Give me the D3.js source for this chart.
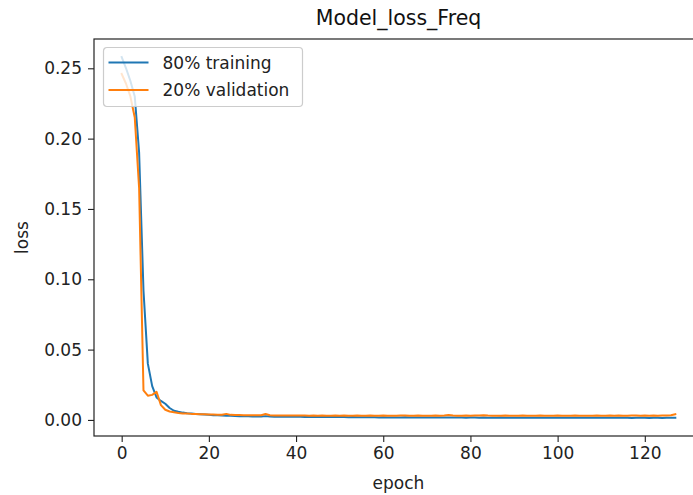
<!DOCTYPE html>
<html>
<head>
<meta charset="utf-8">
<script src="https://cdn.jsdelivr.net/npm/d3@7"></script>
<style>
  html, body { margin: 0; padding: 0; background: #fff; overflow: hidden; }
  svg { display: block; font-family: "DejaVu Sans", sans-serif; }
</style>
</head>
<body>
<div id="chart"></div>
<script>
const title = "Model_loss_Freq";
const xLabel = "epoch";
const yLabel = "loss";
const seriesNames = ["80% training", "20% validation"];
const seriesColors = ["#1f77b4", "#ff7f0e"];
const xTicks = [0, 20, 40, 60, 80, 100, 120];
const yTicks = [0.00, 0.05, 0.10, 0.15, 0.20, 0.25];

const trainLoss = [
  0.258,0.250,0.241,0.230,0.190,0.092,0.040,0.024,0.016,0.0135,
  0.0115,0.0085,0.0065,0.0058,0.0052,0.0048,0.0045,0.0042,0.0040,0.0038,
  0.0036,0.0034,0.0033,0.0031,0.0030,0.0029,0.0028,0.0027,0.0026,0.0026,
  0.0025,0.0025,0.0024,0.0027,0.0024,0.0023,0.0023,0.0023,0.0022,0.0022,
  0.0022,0.0022,0.0021,0.0021,0.0021,0.0021,0.0020,0.0021,0.0020,0.0020,
  0.0020,0.0020,0.0019,0.0020,0.0019,0.0019,0.0019,0.0019,0.0019,0.0018,
  0.0019,0.0018,0.0018,0.0018,0.0018,0.0019,0.0018,0.0018,0.0017,0.0018,
  0.0017,0.0017,0.0017,0.0018,0.0017,0.0018,0.0017,0.0017,0.0017,0.0016,
  0.0017,0.0017,0.0016,0.0017,0.0016,0.0016,0.0016,0.0017,0.0016,0.0016,
  0.0016,0.0016,0.0016,0.0016,0.0015,0.0016,0.0016,0.0015,0.0016,0.0015,
  0.0016,0.0015,0.0015,0.0015,0.0016,0.0015,0.0015,0.0015,0.0015,0.0015,
  0.0015,0.0015,0.0015,0.0016,0.0015,0.0015,0.0015,0.0014,0.0015,0.0015,
  0.0015,0.0014,0.0015,0.0015,0.0014,0.0015,0.0015,0.0016
];
const valLoss = [
  0.246,0.239,0.230,0.215,0.165,0.021,0.0172,0.0178,0.0200,0.0105,
  0.0072,0.0060,0.0054,0.0049,0.0046,0.0045,0.0043,0.0042,0.0041,0.0040,
  0.0039,0.0038,0.0037,0.0037,0.0043,0.0036,0.0035,0.0035,0.0034,0.0034,
  0.0033,0.0033,0.0033,0.0042,0.0033,0.0032,0.0032,0.0032,0.0031,0.0032,
  0.0031,0.0031,0.0031,0.0030,0.0031,0.0030,0.0031,0.0030,0.0030,0.0031,
  0.0030,0.0032,0.0030,0.0030,0.0031,0.0030,0.0030,0.0031,0.0030,0.0030,
  0.0031,0.0030,0.0030,0.0030,0.0031,0.0032,0.0030,0.0030,0.0031,0.0030,
  0.0030,0.0030,0.0031,0.0030,0.0031,0.0035,0.0031,0.0030,0.0030,0.0031,
  0.0030,0.0031,0.0032,0.0034,0.0031,0.0030,0.0030,0.0030,0.0031,0.0030,
  0.0030,0.0030,0.0031,0.0030,0.0030,0.0030,0.0031,0.0030,0.0030,0.0030,
  0.0031,0.0030,0.0030,0.0030,0.0031,0.0030,0.0030,0.0030,0.0030,0.0031,
  0.0030,0.0030,0.0031,0.0030,0.0031,0.0030,0.0030,0.0031,0.0032,0.0030,
  0.0031,0.0030,0.0031,0.0030,0.0031,0.0032,0.0033,0.0040
];

const W = 693, H = 495;
const plot = { left: 94, top: 39, right: 703, bottom: 436 };
const fs = 17;

const series = [trainLoss, valLoss];
const n = trainLoss.length;
const xPad = (n - 1) * 0.05;
const allVals = trainLoss.concat(valLoss);
const [ymin, ymax] = d3.extent(allVals);
const yPad = (ymax - ymin) * 0.05;

const x = d3.scaleLinear().domain([-xPad, n - 1 + xPad]).range([plot.left, plot.right]);
const y = d3.scaleLinear().domain([ymin - yPad, ymax + yPad]).range([plot.bottom, plot.top]);

const svg = d3.select("#chart").append("svg").attr("width", W).attr("height", H);

svg.append("defs").append("clipPath").attr("id", "clip")
  .append("rect").attr("x", plot.left).attr("y", plot.top)
  .attr("width", plot.right - plot.left).attr("height", plot.bottom - plot.top);

const line = d3.line().x((d, i) => x(i)).y(d => y(d));
series.forEach((s, k) => {
  svg.append("path").datum(s)
    .attr("clip-path", "url(#clip)")
    .attr("fill", "none")
    .attr("stroke", seriesColors[k])
    .attr("stroke-width", 2)
    .attr("stroke-linejoin", "round")
    .attr("stroke-linecap", "square")
    .attr("d", line);
});

// axes
const xAxis = d3.axisBottom(x).tickValues(xTicks).tickSize(6).tickPadding(5).tickFormat(d3.format("d"));
const yAxis = d3.axisLeft(y).tickValues(yTicks).tickSize(6).tickPadding(6).tickFormat(d3.format(".2f"));

const gx = svg.append("g").attr("transform", `translate(0,${plot.bottom})`).call(xAxis);
const gy = svg.append("g").attr("transform", `translate(${plot.left},0)`).call(yAxis);
[gx, gy].forEach(g => {
  g.select(".domain").remove();
  g.selectAll(".tick line").attr("stroke", "#222").attr("stroke-width", 1.1);
  g.selectAll(".tick text").attr("fill", "#222").style("font-size", fs + "px").style("font-family", "DejaVu Sans");
});

// spines
svg.append("rect").attr("x", plot.left).attr("y", plot.top)
  .attr("width", plot.right - plot.left).attr("height", plot.bottom - plot.top)
  .attr("fill", "none").attr("stroke", "#222").attr("stroke-width", 1.2);

// labels
svg.append("text").attr("x", (plot.left + plot.right) / 2).attr("y", 25)
  .attr("text-anchor", "middle").style("font-size", "20.5px").attr("fill", "#111").text(title);
svg.append("text").attr("x", (plot.left + plot.right) / 2).attr("y", 489)
  .attr("text-anchor", "middle").style("font-size", fs + "px").attr("fill", "#222").text(xLabel);
svg.append("text").attr("transform", `translate(28,${(plot.top + plot.bottom) / 2}) rotate(-90)`)
  .attr("text-anchor", "middle").style("font-size", fs + "px").attr("fill", "#222").text(yLabel);

// legend
const lg = svg.append("g").attr("transform", "translate(103.5,47.5)");
lg.append("rect").attr("width", 199).attr("height", 59).attr("rx", 3.5)
  .attr("fill", "#fff").attr("fill-opacity", 0.8).attr("stroke", "#ccc").attr("stroke-width", 1.2);
seriesNames.forEach((name, k) => {
  const yy = 15 + k * 27.5;
  lg.append("line").attr("x1", 5).attr("x2", 45).attr("y1", yy).attr("y2", yy)
    .attr("stroke", seriesColors[k]).attr("stroke-width", 2.2);
  lg.append("text").attr("x", 59).attr("y", yy + 6).style("font-size", fs + "px").attr("fill", "#222").text(name);
});
</script>
</body>
</html>
